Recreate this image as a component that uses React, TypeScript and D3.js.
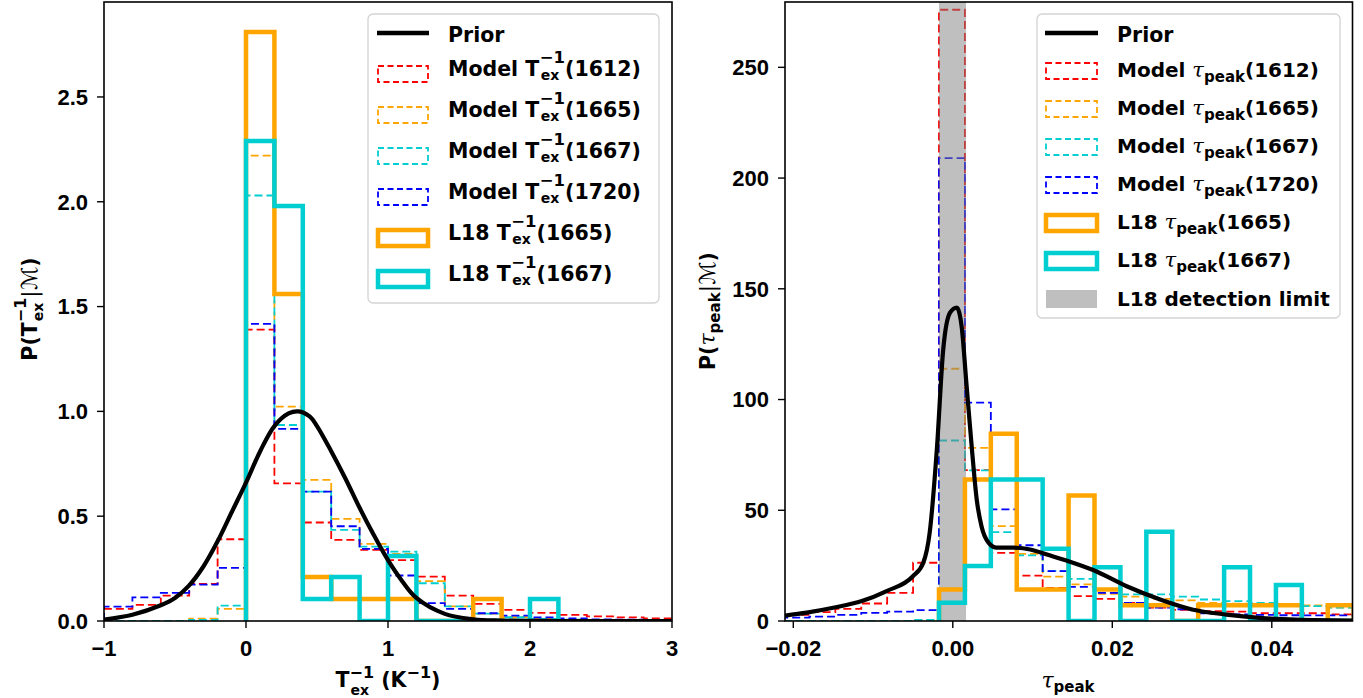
import React from 'react';
import * as d3 from 'd3';

const W = 1363, H = 698;
const TICK_FONT = "'Liberation Sans', Arial, sans-serif";
const TEXT_FONT = "'DejaVu Sans', sans-serif";
const SERIF = "'DejaVu Serif', serif";

const RED = '#ff0000', ORANGE = '#ffa500', CYAN = '#00ced1', BLUE = '#0000ff';

// ---------------- Left panel data: T_ex^-1 ----------------
const texBinStart = -1, texBinWidth = 0.2;
const texModel1612 = [0.058, 0.077, 0.121, 0.177, 0.39, 1.39, 0.657, 0.47, 0.387, 0.339, 0.29, 0.212, 0.121, 0.082, 0.053, 0.039, 0.029, 0.022, 0.017, 0.012];
const texModel1665 = [0, 0, 0, 0.011, 0.058, 2.22, 1.023, 0.673, 0.487, 0.368, 0.32, 0.19, 0.07, 0.035, 0.018, 0.01, 0.006, 0.004, 0.002, 0.001];
const texModel1667 = [0, 0, 0, 0.005, 0.073, 2.03, 0.935, 0.617, 0.435, 0.355, 0.331, 0.18, 0.07, 0.035, 0.018, 0.01, 0.006, 0.004, 0.002, 0.001];
const texModel1720 = [0.069, 0.113, 0.134, 0.174, 0.253, 1.417, 0.917, 0.617, 0.452, 0.344, 0.217, 0.085, 0.058, 0.037, 0.026, 0.017, 0.012, 0.008, 0.006, 0.004];
const texL18BinStart = 0;
const texL18_1665 = [2.81, 1.56, 0.21, 0.105, 0.105, 0.105, 0, 0, 0.105];
const texL18_1667 = [2.29, 1.98, 0.105, 0.21, 0, 0.31, 0, 0, 0, 0, 0.105];
const texPriorX = [-1.0, -0.8, -0.6, -0.5, -0.4, -0.3, -0.2, -0.1, 0, 0.1, 0.2, 0.3, 0.37, 0.45, 0.5, 0.6, 0.7, 0.8, 0.9, 1.0, 1.1, 1.2, 1.4, 1.6, 1.8, 2.2, 3.0];
const texPriorY = [0.007, 0.03, 0.075, 0.11, 0.17, 0.26, 0.38, 0.52, 0.66, 0.81, 0.93, 0.99, 1.0, 0.975, 0.93, 0.81, 0.68, 0.54, 0.41, 0.29, 0.19, 0.11, 0.034, 0.008, 0.002, 0, 0];
const texXTicks = [-1, 0, 1, 2, 3];
const texYTicks = [0, 0.5, 1.0, 1.5, 2.0, 2.5];

// ---------------- Right panel data: tau_peak ----------------
const tauBinStart = -0.00173, tauBinWidth = 0.00325;
const tauModelFirstBin = -6; // model bins start 6 bins left of tauBinStart
const tauModel1612 = [2.8, 4.0, 5.5, 7.9, 12.7, 26.3, 276, 68.1, 30.8, 20.5, 15, 11.2, 10, 8.2, 6.0, 5.0, 4.4, 4.2, 3.5, 3.5, 3.5, 3.0];
const tauModel1665 = [0, 0, 0, 0, 0, 0.5, 113.9, 78.2, 42.8, 30.3, 20, 16.5, 12.3, 11, 10, 9.3, 8.2, 7.8, 7.5, 7.3, 7, 6];
const tauModel1667 = [0, 0, 0, 0, 0, 0.5, 81.5, 68, 40.1, 29.6, 22.5, 19, 14.5, 12, 12, 11, 9.7, 9, 8.2, 7.5, 6.7, 6];
const tauModel1720 = [1.5, 2.0, 2.8, 3.7, 4.2, 4.9, 209, 98.6, 50.4, 34.2, 22.5, 15.4, 12.7, 8.2, 6.0, 5.3, 3.5, 3.0, 2.8, 2.6, 2.5, 2.5];
const tauL18_1665 = [14.2, 63.9, 84.5, 14.2, 14.2, 56.7, 14.2, 7.1, 7.1, 0, 7.1, 7.1, 7.1, 7.1, 0, 7.1];
const tauL18_1667 = [8.2, 24.8, 63.9, 63.9, 32.6, 0, 24.3, 0, 40.3, 0, 0, 24.3, 0, 16.2, 0, 0];
const tauDetection = [-0.00173, 0.00166];
const tauPriorX = [-0.0212, -0.0183, -0.0150, -0.0114, -0.0083, -0.0050, -0.0037, -0.0029, -0.0020, -0.0012, -0.00035, 0.0005, 0.0011, 0.0017, 0.0024, 0.0030, 0.0036, 0.0045, 0.0055, 0.0076, 0.0097, 0.0118, 0.0145, 0.0176, 0.0218, 0.026, 0.030, 0.0343, 0.0385, 0.043, 0.0505];
const tauPriorY = [2.4, 3.8, 6.0, 9.0, 13.5, 20.2, 26.3, 39.8, 77.5, 122.6, 139.2, 141.5, 133.2, 107.6, 77.5, 54.9, 42.8, 35.3, 33.1, 33.1, 32.3, 30.0, 27.0, 23.0, 15.7, 9.7, 5.2, 2.9, 1.4, 0.6, 0.2];
const tauXTicks = [-0.02, 0, 0.02, 0.04];
const tauYTicks = [0, 50, 100, 150, 200, 250];

// legend labels
const freqs = ['1612', '1665', '1667', '1720'];
const l18Freqs = ['1665', '1667'];

// ---------------- layout ----------------
const LP = { x0: 104, x1: 672, y0: 2, y1: 621 };
const RP = { x0: 785, x1: 1352.5, y0: 2, y1: 621 };

const xL = d3.scaleLinear().domain([-1, 3]).range([LP.x0, LP.x1]);
const yL = d3.scaleLinear().domain([0, 2.953]).range([LP.y1, LP.y0]);
const xR = d3.scaleLinear().domain([-0.02104, 0.05012]).range([RP.x0, RP.x1]);
const yR = d3.scaleLinear().domain([0, 279.5]).range([RP.y1, RP.y0]);

function edgesFor(start: number, width: number, n: number) {
  return d3.range(n + 1).map((i) => start + i * width);
}

function stepPath(edges: number[], vals: number[], x: any, y: any) {
  let p = `M${x(edges[0])},${y(0)}`;
  vals.forEach((v, i) => {
    p += `L${x(edges[i])},${y(v)}L${x(edges[i + 1])},${y(v)}`;
  });
  p += `L${x(edges[vals.length])},${y(0)}`;
  return p;
}

const minusFmt = (s: string) => s.replace('-', '\u2212');

function Axes({ P, x, y, xticks, yticks, xfmt, yfmt }: any) {
  return (
    <g>
      <rect x={P.x0} y={P.y0} width={P.x1 - P.x0} height={P.y1 - P.y0} fill="none" stroke="#000" strokeWidth={1.6} />
      {xticks.map((t: number) => (
        <g key={'x' + t}>
          <line x1={x(t)} x2={x(t)} y1={P.y1} y2={P.y1 + 7} stroke="#000" strokeWidth={1.4} />
          <text x={x(t)} y={656} textAnchor="middle" fontFamily={TICK_FONT} fontWeight="bold" fontSize={22}>{minusFmt(xfmt(t))}</text>
        </g>
      ))}
      {yticks.map((t: number) => (
        <g key={'y' + t}>
          <line x1={P.x0 - 7} x2={P.x0} y1={y(t)} y2={y(t)} stroke="#000" strokeWidth={1.4} />
          <text x={P.x0 - 16} y={y(t)} dy="0.36em" textAnchor="end" fontFamily={TICK_FONT} fontWeight="bold" fontSize={22}>{yfmt(t)}</text>
        </g>
      ))}
    </g>
  );
}

export default function App() {
  const texModelEdges = edgesFor(texBinStart, texBinWidth, texModel1612.length);
  const texL18Edges1665 = edgesFor(texL18BinStart, texBinWidth, texL18_1665.length);
  const texL18Edges1667 = edgesFor(texL18BinStart, texBinWidth, texL18_1667.length);
  const tauModelEdges = edgesFor(tauBinStart + tauModelFirstBin * tauBinWidth, tauBinWidth, tauModel1612.length);
  const tauL18Edges = edgesFor(tauBinStart, tauBinWidth, tauL18_1665.length);

  const lineL = d3.line<number>().x((d, i) => xL(texPriorX[i])).y((d) => yL(d)).curve(d3.curveCatmullRom.alpha(0.5));
  const lineR = d3.line<number>().x((d, i) => xR(tauPriorX[i])).y((d) => yR(d)).curve(d3.curveMonotoneX);

  const dash = '8,4';
  const modelStyle = { fill: 'none', strokeWidth: 1.8, strokeDasharray: dash };
  const l18Style = { fill: 'none', strokeWidth: 4.5, strokeLinejoin: 'miter' as const };

  const texModels = [texModel1612, texModel1665, texModel1667, texModel1720];
  const tauModels = [tauModel1612, tauModel1665, tauModel1667, tauModel1720];
  const modelColors = [RED, ORANGE, CYAN, BLUE];

  // legend rows
  const leftRowsY = [33, 74, 115, 156, 197, 238, 279];
  const rightRowsY = [33, 71, 109, 147, 185, 223, 261, 299];

  const LH = { x0: 378, x1: 428, tx: 448 };
  const RH = { x0: 1046, x1: 1097, tx: 1117 };

  const texLabel = (prefix: string, freq: string, cy: number, key: string) => (
    <text key={key} x={LH.tx} y={cy + 2} fontFamily={TEXT_FONT} fontWeight="bold" fontSize={20.5}>
      {prefix} T
      <tspan dx={1.5} dy={4} fontSize={14}>ex</tspan>
      <tspan dx={-19.5} dy={-17} fontSize={16.5}>{'\u22121'}</tspan>
      <tspan dy={13} fontSize={20.5}>({freq})</tspan>
    </text>
  );
  const tauLabel = (prefix: string, freq: string, cy: number, key: string) => (
    <text key={key} x={RH.tx} y={cy + 6} fontFamily={TEXT_FONT} fontWeight="bold" fontSize={20}>
      {prefix + ' '}
      <tspan fontFamily={SERIF} fontStyle="italic" fontWeight="normal" fontSize={21}>τ</tspan>
      <tspan dy={5} fontSize={15}>peak</tspan>
      <tspan dy={-5} fontSize={20}>({freq})</tspan>
    </text>
  );

  return (
    <svg width={W} height={H} style={{ position: 'absolute', left: 0, top: 0, background: '#fff' }}>
      <defs>
        <clipPath id="clipL"><rect x={LP.x0} y={LP.y0} width={LP.x1 - LP.x0} height={LP.y1 - LP.y0} /></clipPath>
        <clipPath id="clipR"><rect x={RP.x0} y={RP.y0} width={RP.x1 - RP.x0} height={RP.y1 - RP.y0} /></clipPath>
      </defs>
      <rect x={0} y={0} width={W} height={H} fill="#fff" />

      {/* ---------- Left panel ---------- */}
      <g clipPath="url(#clipL)">
        {texModels.map((vals, i) => (
          <path key={'tm' + i} d={stepPath(texModelEdges, vals, xL, yL)} stroke={modelColors[i]} {...modelStyle} />
        ))}
        <path d={stepPath(texL18Edges1665, texL18_1665, xL, yL)} stroke={ORANGE} {...l18Style} />
        <path d={stepPath(texL18Edges1667, texL18_1667, xL, yL)} stroke={CYAN} {...l18Style} />
        <path d={lineL(texPriorY) || ''} fill="none" stroke="#000" strokeWidth={4.2} />
      </g>
      <Axes P={LP} x={xL} y={yL} xticks={texXTicks} yticks={texYTicks} xfmt={d3.format('d')} yfmt={d3.format('.1f')} />

      {/* left legend */}
      <rect x={368} y={14} width={291} height={289} rx={5} fill="#fff" fillOpacity={0.85} stroke="#d3d3d3" strokeWidth={1.3} />
      <line x1={LH.x0 - 1} x2={LH.x1 + 1} y1={leftRowsY[0]} y2={leftRowsY[0]} stroke="#000" strokeWidth={4.5} />
      <text x={LH.tx} y={leftRowsY[0] + 9} fontFamily={TEXT_FONT} fontWeight="bold" fontSize={20.5}>Prior</text>
      {freqs.map((f, i) => (
        <g key={'ll' + f}>
          <rect x={LH.x0} y={leftRowsY[i + 1] - 8} width={LH.x1 - LH.x0} height={16} stroke={modelColors[i]} {...modelStyle} strokeDasharray="6,3.5" />
          {texLabel('Model', f, leftRowsY[i + 1], 'lt' + f)}
        </g>
      ))}
      {l18Freqs.map((f, i) => (
        <g key={'lL' + f}>
          <rect x={LH.x0} y={leftRowsY[5 + i] - 8} width={LH.x1 - LH.x0} height={16} stroke={i === 0 ? ORANGE : CYAN} {...l18Style} />
          {texLabel('L18', f, leftRowsY[5 + i], 'lL18' + f)}
        </g>
      ))}

      {/* left axis labels */}
      <text x={388} y={687} textAnchor="middle" fontFamily={TEXT_FONT} fontWeight="bold" fontSize={20.5}>
        T
        <tspan dx={1} dy={8} fontSize={14}>ex</tspan>
        <tspan dx={-19.5} dy={-17} fontSize={16}>{'\u22121'}</tspan>
        <tspan dy={9} fontSize={20.5}>{' (K'}</tspan>
        <tspan dy={-9} fontSize={16}>{'\u22121'}</tspan>
        <tspan dy={9} fontSize={20.5}>)</tspan>
      </text>
      <text transform="translate(37,309) rotate(-90)" textAnchor="middle" fontFamily={TEXT_FONT} fontWeight="bold" fontSize={20.5}>
        P(T
        <tspan dx={1} dy={6} fontSize={14}>ex</tspan>
        <tspan dx={-19.5} dy={-17} fontSize={16}>{'\u22121'}</tspan>
        <tspan dy={11} fontWeight="normal" fontSize={22}>|ℳ</tspan>
        <tspan>)</tspan>
      </text>

      {/* ---------- Right panel ---------- */}
      <g clipPath="url(#clipR)">
        {tauModels.map((vals, i) => (
          <path key={'rm' + i} d={stepPath(tauModelEdges, vals, xR, yR)} stroke={modelColors[i]} {...modelStyle} />
        ))}
        <rect x={xR(tauDetection[0])} y={RP.y0} width={xR(tauDetection[1]) - xR(tauDetection[0])} height={RP.y1 - RP.y0} fill="#808080" fillOpacity={0.5} />
        <path d={stepPath(tauL18Edges, tauL18_1665, xR, yR)} stroke={ORANGE} {...l18Style} />
        <path d={stepPath(tauL18Edges, tauL18_1667, xR, yR)} stroke={CYAN} {...l18Style} />
        <path d={lineR(tauPriorY) || ''} fill="none" stroke="#000" strokeWidth={4.2} />
      </g>
      <Axes P={RP} x={xR} y={yR} xticks={tauXTicks} yticks={tauYTicks} xfmt={d3.format('.2f')} yfmt={d3.format('d')} />

      {/* right legend */}
      <rect x={1037} y={14} width={303} height={304} rx={5} fill="#fff" fillOpacity={0.85} stroke="#d3d3d3" strokeWidth={1.3} />
      <line x1={RH.x0 - 1} x2={RH.x1 + 1} y1={rightRowsY[0]} y2={rightRowsY[0]} stroke="#000" strokeWidth={4.5} />
      <text x={RH.tx} y={rightRowsY[0] + 9} fontFamily={TEXT_FONT} fontWeight="bold" fontSize={20.5}>Prior</text>
      {freqs.map((f, i) => (
        <g key={'rl' + f}>
          <rect x={RH.x0} y={rightRowsY[i + 1] - 8} width={RH.x1 - RH.x0} height={16} stroke={modelColors[i]} {...modelStyle} strokeDasharray="6,3.5" />
          {tauLabel('Model', f, rightRowsY[i + 1], 'rt' + f)}
        </g>
      ))}
      {l18Freqs.map((f, i) => (
        <g key={'rL' + f}>
          <rect x={RH.x0} y={rightRowsY[5 + i] - 8} width={RH.x1 - RH.x0} height={16} stroke={i === 0 ? ORANGE : CYAN} {...l18Style} />
          {tauLabel('L18', f, rightRowsY[5 + i], 'rL18' + f)}
        </g>
      ))}
      <rect x={RH.x0} y={rightRowsY[7] - 9} width={RH.x1 - RH.x0} height={18} fill="#bfbfbf" />
      <text x={RH.tx} y={rightRowsY[7] + 7} fontFamily={TEXT_FONT} fontWeight="bold" fontSize={20}>L18 detection limit</text>

      {/* right axis labels */}
      <text x={1068} y={688} textAnchor="middle" fontFamily={TEXT_FONT} fontWeight="bold" fontSize={20}>
        <tspan fontFamily={SERIF} fontStyle="italic" fontWeight="normal" fontSize={22}>τ</tspan>
        <tspan dy={4} fontSize={15}>peak</tspan>
      </text>
      <text transform="translate(715,311) rotate(-90)" textAnchor="middle" fontFamily={TEXT_FONT} fontWeight="bold" fontSize={20.5}>
        P(
        <tspan fontFamily={SERIF} fontStyle="italic" fontWeight="normal" fontSize={22}>τ</tspan>
        <tspan dy={5} fontSize={15}>peak</tspan>
        <tspan dy={-5} fontWeight="normal" fontSize={22}>|ℳ</tspan>
        <tspan>)</tspan>
      </text>
    </svg>
  );
}
